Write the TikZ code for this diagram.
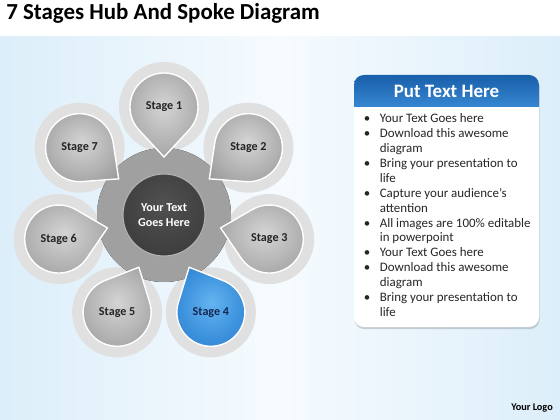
\documentclass[tikz,border=0pt]{standalone}
\usepackage{fontspec}
\setmainfont{Carlito}
\usepackage{tikz}
\usetikzlibrary{calc}
\usetikzlibrary{positioning}
\usetikzlibrary{shadows}

\definecolor{bgblue}{RGB}{220, 238, 250}
\definecolor{bgmid}{RGB}{246, 251, 254}
\definecolor{halogray}{RGB}{224, 224, 224}
\definecolor{petallight}{RGB}{212, 212, 212}
\definecolor{petalmid}{RGB}{178, 178, 178}
\definecolor{petaldark}{RGB}{138, 138, 138}
\definecolor{bluelight}{RGB}{100, 180, 240}
\definecolor{bluemid}{RGB}{60, 145, 220}
\definecolor{bluedark}{RGB}{35, 110, 190}
\definecolor{ringlight}{RGB}{160, 160, 160}
\definecolor{ringdark}{RGB}{115, 115, 115}
\definecolor{corelight}{RGB}{80, 80, 80}
\definecolor{coredark}{RGB}{15, 15, 15}
\definecolor{hdrtop}{RGB}{25, 95, 170}
\definecolor{hdrbot}{RGB}{55, 135, 210}
\definecolor{stagetext}{RGB}{35, 35, 35}
\definecolor{bluetext}{RGB}{20, 40, 80}

\pgfdeclareradialshading{petalshade}{\pgfpoint{0bp}{4bp}}{color(0bp)=(petallight); color(20bp)=(petalmid); color(42bp)=(petaldark); color(50bp)=(petaldark)}
\pgfdeclareradialshading{blueshade}{\pgfpoint{0bp}{4bp}}{color(0bp)=(bluelight); color(20bp)=(bluemid); color(42bp)=(bluedark); color(50bp)=(bluedark)}
\pgfdeclareradialshading{ringshade}{\pgfpoint{0bp}{4bp}}{color(0bp)=(ringlight); color(32bp)=(ringlight); color(50bp)=(ringdark)}
\pgfdeclareradialshading{coreshade}{\pgfpoint{0bp}{8bp}}{color(0bp)=(corelight); color(26bp)=(black!75); color(50bp)=(coredark)}

\tikzset{petal/.style = {shading=petalshade, draw=white, line width=1pt},
         bluepetal/.style = {shading=blueshade, draw=white, line width=1pt},
         stagelabel/.style = {font=\fontsize{8.6}{9}\selectfont\bfseries, text=stagetext},
         bluelabel/.style = {font=\fontsize{8.6}{9}\selectfont\bfseries, text=bluetext},
         hubtext/.style = {font=\fontsize{8.6}{10.7}\selectfont\bfseries, text=white, align=center},
         titletext/.style = {font=\fontsize{16.3}{18}\selectfont\bfseries, text=black, inner sep=0pt},
         hdrtext/.style = {font=\fontsize{13.5}{15}\selectfont\bfseries, text=white},
         listtext/.style = {font=\fontsize{9.2}{10.6}\selectfont, text=black!85, inner sep=0pt},
         logotext/.style = {font=\fontsize{7.3}{9}\selectfont\bfseries, text=black}}

\begin{document}
\begin{tikzpicture}[x=0.025cm, y=-0.025cm]
    \useasboundingbox (0, 0) rectangle (560, 420);

    \fill [white] (0, 0) rectangle (560, 420);
    \shade [left color=bgblue, right color=bgblue, middle color=bgmid] (0, 37) rectangle (560, 420);

    \node [titletext, anchor=base west] (title) at (6, 20) {7 Stages Hub And Spoke Diagram};

    \coordinate (hubc) at (164, 215);

    \foreach \i in {1, ..., 7} {
      \pgfmathsetmacro{\a}{-90 + (\i - 1) * 360 / 7}
      \fill [halogray] ($(hubc) + (\a:108)$) circle (45);
    }

    \fill [shading=ringshade] (hubc) circle (67);

    \foreach \i/\p/\t in {1/petal/stagelabel, 2/petal/stagelabel, 3/petal/stagelabel, 4/bluepetal/bluelabel,
                          5/petal/stagelabel, 6/petal/stagelabel, 7/petal/stagelabel} {
      \pgfmathsetmacro{\a}{-90 + (\i - 1) * 360 / 7}
      \path [\p] ($(hubc) + (\a:58)$) -- ($(hubc) + (\a:108) + (\a + 227.2:34)$)
        arc [start angle=\a + 227.2, end angle=\a + 492.8, radius=34] -- cycle;
      \node [\t] (stage\i) at ($(hubc) + (\a:108)$) {Stage \i};
    }

    \fill [shading=coreshade] (hubc) circle (41);
    \draw [gray!60, line width=0.8pt] (hubc) circle (41);
    \node [hubtext] (hub) at (hubc) {Your Text\\Goes Here};

    % text panel
    \fill [white, rounded corners=7pt, drop shadow={shadow xshift=0.4pt, shadow yshift=-1.5pt, opacity=0.35}]
      (354, 75) rectangle (539, 327);
    \begin{scope}
      \clip [rounded corners=7pt] (354, 75) rectangle (539, 327);
      \shade [top color=hdrtop, bottom color=hdrbot] (354, 75) rectangle (539, 107);
    \end{scope}
    \node [hdrtext] (header) at (446.5, 91) {Put Text Here};

    \node [listtext, anchor=north west] (list) at (363.5, 112) {%
      \begin{tabular}{@{}p{11.4pt}@{}l@{}}
        \textbullet & Your Text Goes here\\
        \textbullet & Download this awesome\\
                    & diagram\\
        \textbullet & Bring your presentation to\\
                    & life\\
        \textbullet & Capture your audience’s\\
                    & attention\\
        \textbullet & All images are 100\% editable\\
                    & in powerpoint\\
        \textbullet & Your Text Goes here\\
        \textbullet & Download this awesome\\
                    & diagram\\
        \textbullet & Bring your presentation to\\
                    & life
      \end{tabular}};

    \node [logotext] (logo) at (532, 408) {Your Logo};
  \end{tikzpicture}
\end{document}
